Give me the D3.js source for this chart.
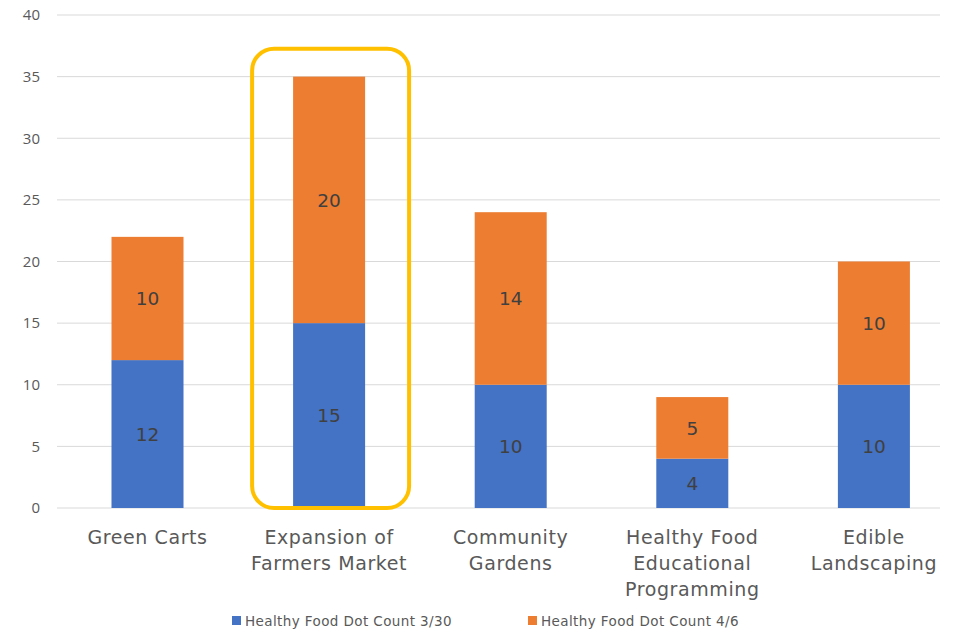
<!DOCTYPE html>
<html><head><meta charset="utf-8">
<script src="https://cdn.jsdelivr.net/npm/d3@7"></script>
<style>body{margin:0;background:#fff;}svg{display:block;}</style>
</head><body>
<svg id="c" width="961" height="633"></svg>
<script>
const categories = [["Green Carts"],["Expansion of","Farmers Market"],["Community","Gardens"],["Healthy Food","Educational","Programming"],["Edible","Landscaping"]];
const seriesNames = ["Healthy Food Dot Count 3/30","Healthy Food Dot Count 4/6"];
const series1 = [12,15,10,4,10];
const series2 = [10,20,14,5,10];
const yTicks = [0,5,10,15,20,25,30,35,40];
const colors = ["#4472C4","#ED7D31"];
const highlightIndex = 1;

const svg = d3.select("#c");
const font = "'DejaVu Sans', Verdana, sans-serif";
const tickFont = "'Open Sans', sans-serif";
const keys = categories.map((c,i)=>i);
const x = d3.scaleBand().domain(keys).range([56.7,964.7]).paddingInner(0.6035).paddingOuter(0.30175);
const y = d3.scaleLinear().domain([0,40]).range([508,15]);

// gridlines
svg.append("g").selectAll("line").data(yTicks).join("line")
  .attr("x1",57).attr("x2",940).attr("y1",d=>y(d)).attr("y2",d=>y(d))
  .attr("stroke","#d9d9d9").attr("stroke-width",1);

// y axis labels
const yAxis = d3.axisLeft(y).tickValues(yTicks).tickSize(0).tickPadding(0);
const ga = svg.append("g").attr("transform","translate(40,0)").call(yAxis);
ga.select(".domain").remove();
ga.selectAll("text").attr("font-family",tickFont).attr("font-size","15px").attr("fill","#595959");

const table = keys.map(i=>({i, a:series1[i], b:series2[i]}));
const stack = d3.stack().keys(["a","b"])(table);

stack.forEach((s,si)=>{
  svg.append("g").selectAll("rect").data(s).join("rect")
    .attr("x",d=>x(d.data.i)).attr("width",x.bandwidth())
    .attr("y",d=>y(d[1])).attr("height",d=>y(d[0])-y(d[1]))
    .attr("fill",colors[si]);
  svg.append("g").selectAll("text").data(s).join("text")
    .attr("x",d=>x(d.data.i)+x.bandwidth()/2)
    .attr("y",d=>(y(d[0])+y(d[1]))/2)
    .attr("dy","0.36em").attr("text-anchor","middle")
    .attr("font-family",font).attr("font-size","18.5px").attr("fill","#404040")
    .text(d=>d[1]-d[0]);
});

// highlight box
const hx = x(highlightIndex)+x.bandwidth()/2;
svg.append("rect").attr("x",hx-77).attr("y",y(35)-28).attr("width",157).attr("height",y(0)-y(35)+28)
  .attr("rx",22).attr("ry",22).attr("fill","none").attr("stroke","#FFC000").attr("stroke-width",4);

// category labels
const gl = svg.append("g");
categories.forEach((lines,i)=>{
  const t = gl.append("text").attr("text-anchor","middle")
    .attr("font-family",font).attr("font-size","19px").attr("letter-spacing","0.6px").attr("fill","#595959");
  lines.forEach((ln,j)=>{
    t.append("tspan").attr("x",x(i)+x.bandwidth()/2).attr("y",544+j*26).text(ln);
  });
});

// legend
const legX = [232,528];
seriesNames.forEach((n,i)=>{
  svg.append("rect").attr("x",legX[i]).attr("y",616).attr("width",9).attr("height",9).attr("fill",colors[i]);
  svg.append("text").attr("x",legX[i]+13).attr("y",626).attr("font-family",font).attr("font-size","13.5px")
    .attr("letter-spacing","0.4px").attr("fill","#595959").text(n);
});
</script>
</body></html>
